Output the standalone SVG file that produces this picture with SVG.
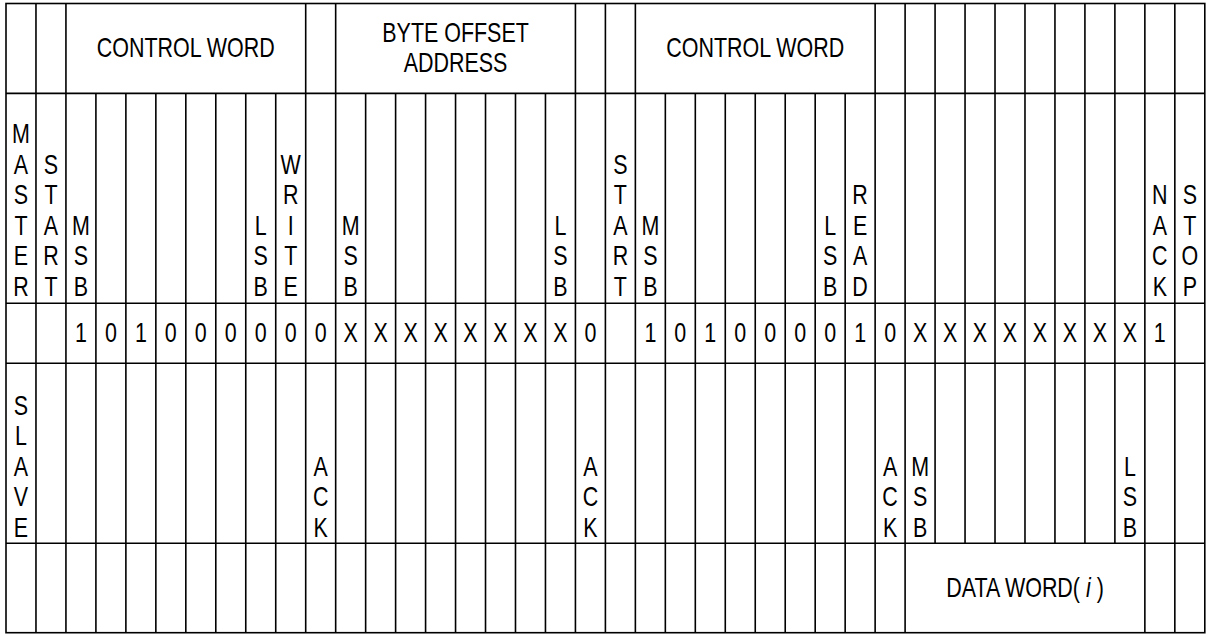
<svg xmlns="http://www.w3.org/2000/svg" width="1206" height="634" viewBox="0 0 1206 634">
<style>
.ln{stroke:#000;stroke-width:1.6;fill:none}
.t{font-family:"Liberation Sans",Arial,Helvetica,sans-serif;font-size:27.5px;text-anchor:middle;fill:#000}
</style>
<rect x="0" y="0" width="1206" height="634" fill="#fff"/>
<g id="grid">
<rect class="ln" x="6" y="3.5" width="1198.8" height="629.2"/>
<path class="ln" d="M6 93.4H1204.8M6 303.3H1204.8M6 363.3H1204.8M6 543.3H1204.8"/>
<path class="ln" d="M35.97 3.5V632.7M65.94 3.5V632.7M305.7 3.5V632.7M335.67 3.5V632.7M575.43 3.5V632.7M605.4 3.5V632.7M635.37 3.5V632.7M875.13 3.5V632.7M905.1 3.5V632.7M1144.86 3.5V632.7M1174.83 3.5V632.7"/>
<path class="ln" d="M95.91 93.4V632.7M125.88 93.4V632.7M155.85 93.4V632.7M185.82 93.4V632.7M215.79 93.4V632.7M245.76 93.4V632.7M275.73 93.4V632.7M365.64 93.4V632.7M395.61 93.4V632.7M425.58 93.4V632.7M455.55 93.4V632.7M485.52 93.4V632.7M515.49 93.4V632.7M545.46 93.4V632.7M665.34 93.4V632.7M695.31 93.4V632.7M725.28 93.4V632.7M755.25 93.4V632.7M785.22 93.4V632.7M815.19 93.4V632.7M845.16 93.4V632.7"/>
<path class="ln" d="M935.07 3.5V543.3M965.04 3.5V543.3M995.01 3.5V543.3M1024.98 3.5V543.3M1054.95 3.5V543.3M1084.92 3.5V543.3M1114.89 3.5V543.3"/>
</g>
<g id="header">
<text class="t" transform="translate(185.8 0) scale(0.78 1)" y="57">CONTROL WORD</text>
<text class="t" transform="translate(455.55 0) scale(0.78 1)"><tspan x="0" y="41.8">BYTE OFFSET</tspan><tspan x="0" y="71.8">ADDRESS</tspan></text>
<text class="t" transform="translate(755.25 0) scale(0.78 1)" y="57">CONTROL WORD</text>
</g>
<g id="master-row">
<text class="t" transform="translate(21 0) scale(0.78 1)"><tspan x="0" y="143.5">M</tspan><tspan x="0" y="174">A</tspan><tspan x="0" y="204.5">S</tspan><tspan x="0" y="235">T</tspan><tspan x="0" y="265.5">E</tspan><tspan x="0" y="296">R</tspan></text>
<text class="t" transform="translate(51 0) scale(0.78 1)"><tspan x="0" y="174">S</tspan><tspan x="0" y="204.5">T</tspan><tspan x="0" y="235">A</tspan><tspan x="0" y="265.5">R</tspan><tspan x="0" y="296">T</tspan></text>
<text class="t" transform="translate(80.9 0) scale(0.78 1)"><tspan x="0" y="235">M</tspan><tspan x="0" y="265.5">S</tspan><tspan x="0" y="296">B</tspan></text>
<text class="t" transform="translate(260.7 0) scale(0.78 1)"><tspan x="0" y="235">L</tspan><tspan x="0" y="265.5">S</tspan><tspan x="0" y="296">B</tspan></text>
<text class="t" transform="translate(290.7 0) scale(0.78 1)"><tspan x="0" y="174">W</tspan><tspan x="0" y="204.5">R</tspan><tspan x="0" y="235">I</tspan><tspan x="0" y="265.5">T</tspan><tspan x="0" y="296">E</tspan></text>
<text class="t" transform="translate(350.7 0) scale(0.78 1)"><tspan x="0" y="235">M</tspan><tspan x="0" y="265.5">S</tspan><tspan x="0" y="296">B</tspan></text>
<text class="t" transform="translate(560.4 0) scale(0.78 1)"><tspan x="0" y="235">L</tspan><tspan x="0" y="265.5">S</tspan><tspan x="0" y="296">B</tspan></text>
<text class="t" transform="translate(620.4 0) scale(0.78 1)"><tspan x="0" y="174">S</tspan><tspan x="0" y="204.5">T</tspan><tspan x="0" y="235">A</tspan><tspan x="0" y="265.5">R</tspan><tspan x="0" y="296">T</tspan></text>
<text class="t" transform="translate(650.4 0) scale(0.78 1)"><tspan x="0" y="235">M</tspan><tspan x="0" y="265.5">S</tspan><tspan x="0" y="296">B</tspan></text>
<text class="t" transform="translate(830.2 0) scale(0.78 1)"><tspan x="0" y="235">L</tspan><tspan x="0" y="265.5">S</tspan><tspan x="0" y="296">B</tspan></text>
<text class="t" transform="translate(860.1 0) scale(0.78 1)"><tspan x="0" y="204.5">R</tspan><tspan x="0" y="235">E</tspan><tspan x="0" y="265.5">A</tspan><tspan x="0" y="296">D</tspan></text>
<text class="t" transform="translate(1159.8 0) scale(0.78 1)"><tspan x="0" y="204.5">N</tspan><tspan x="0" y="235">A</tspan><tspan x="0" y="265.5">C</tspan><tspan x="0" y="296">K</tspan></text>
<text class="t" transform="translate(1189.8 0) scale(0.78 1)"><tspan x="0" y="204.5">S</tspan><tspan x="0" y="235">T</tspan><tspan x="0" y="265.5">O</tspan><tspan x="0" y="296">P</tspan></text>
</g>
<g id="bit-values">
<text class="t" transform="translate(80.9 0) scale(0.78 1)" y="342.5">1</text>
<text class="t" transform="translate(110.9 0) scale(0.78 1)" y="342.5">0</text>
<text class="t" transform="translate(140.9 0) scale(0.78 1)" y="342.5">1</text>
<text class="t" transform="translate(170.8 0) scale(0.78 1)" y="342.5">0</text>
<text class="t" transform="translate(200.8 0) scale(0.78 1)" y="342.5">0</text>
<text class="t" transform="translate(230.8 0) scale(0.78 1)" y="342.5">0</text>
<text class="t" transform="translate(260.7 0) scale(0.78 1)" y="342.5">0</text>
<text class="t" transform="translate(290.7 0) scale(0.78 1)" y="342.5">0</text>
<text class="t" transform="translate(320.7 0) scale(0.78 1)" y="342.5">0</text>
<text class="t" transform="translate(350.7 0) scale(0.78 1)" y="342.5">X</text>
<text class="t" transform="translate(380.6 0) scale(0.78 1)" y="342.5">X</text>
<text class="t" transform="translate(410.6 0) scale(0.78 1)" y="342.5">X</text>
<text class="t" transform="translate(440.6 0) scale(0.78 1)" y="342.5">X</text>
<text class="t" transform="translate(470.5 0) scale(0.78 1)" y="342.5">X</text>
<text class="t" transform="translate(500.5 0) scale(0.78 1)" y="342.5">X</text>
<text class="t" transform="translate(530.5 0) scale(0.78 1)" y="342.5">X</text>
<text class="t" transform="translate(560.4 0) scale(0.78 1)" y="342.5">X</text>
<text class="t" transform="translate(590.4 0) scale(0.78 1)" y="342.5">0</text>
<text class="t" transform="translate(650.4 0) scale(0.78 1)" y="342.5">1</text>
<text class="t" transform="translate(680.3 0) scale(0.78 1)" y="342.5">0</text>
<text class="t" transform="translate(710.3 0) scale(0.78 1)" y="342.5">1</text>
<text class="t" transform="translate(740.3 0) scale(0.78 1)" y="342.5">0</text>
<text class="t" transform="translate(770.2 0) scale(0.78 1)" y="342.5">0</text>
<text class="t" transform="translate(800.2 0) scale(0.78 1)" y="342.5">0</text>
<text class="t" transform="translate(830.2 0) scale(0.78 1)" y="342.5">0</text>
<text class="t" transform="translate(860.1 0) scale(0.78 1)" y="342.5">1</text>
<text class="t" transform="translate(890.1 0) scale(0.78 1)" y="342.5">0</text>
<text class="t" transform="translate(920.1 0) scale(0.78 1)" y="342.5">X</text>
<text class="t" transform="translate(950.1 0) scale(0.78 1)" y="342.5">X</text>
<text class="t" transform="translate(980 0) scale(0.78 1)" y="342.5">X</text>
<text class="t" transform="translate(1010 0) scale(0.78 1)" y="342.5">X</text>
<text class="t" transform="translate(1040 0) scale(0.78 1)" y="342.5">X</text>
<text class="t" transform="translate(1069.9 0) scale(0.78 1)" y="342.5">X</text>
<text class="t" transform="translate(1099.9 0) scale(0.78 1)" y="342.5">X</text>
<text class="t" transform="translate(1129.9 0) scale(0.78 1)" y="342.5">X</text>
<text class="t" transform="translate(1159.8 0) scale(0.78 1)" y="342.5">1</text>
</g>
<g id="slave-row">
<text class="t" transform="translate(21 0) scale(0.78 1)"><tspan x="0" y="415">S</tspan><tspan x="0" y="445.5">L</tspan><tspan x="0" y="476">A</tspan><tspan x="0" y="506.5">V</tspan><tspan x="0" y="537">E</tspan></text>
<text class="t" transform="translate(320.7 0) scale(0.78 1)"><tspan x="0" y="476">A</tspan><tspan x="0" y="506.5">C</tspan><tspan x="0" y="537">K</tspan></text>
<text class="t" transform="translate(590.4 0) scale(0.78 1)"><tspan x="0" y="476">A</tspan><tspan x="0" y="506.5">C</tspan><tspan x="0" y="537">K</tspan></text>
<text class="t" transform="translate(890.1 0) scale(0.78 1)"><tspan x="0" y="476">A</tspan><tspan x="0" y="506.5">C</tspan><tspan x="0" y="537">K</tspan></text>
<text class="t" transform="translate(920.1 0) scale(0.78 1)"><tspan x="0" y="476">M</tspan><tspan x="0" y="506.5">S</tspan><tspan x="0" y="537">B</tspan></text>
<text class="t" transform="translate(1129.9 0) scale(0.78 1)"><tspan x="0" y="476">L</tspan><tspan x="0" y="506.5">S</tspan><tspan x="0" y="537">B</tspan></text>
</g>
<g id="data-word">
<text class="t" transform="translate(1025 0) scale(0.78 1)" y="597">DATA WORD( <tspan font-style="italic">i</tspan> )</text>
</g>
</svg>
